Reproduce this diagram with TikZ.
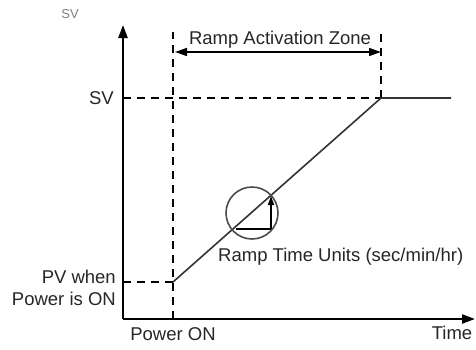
\documentclass[tikz,border=0pt]{standalone}
\usepackage{fontspec}
\setmainfont{Liberation Sans}
\usepackage{tikz}
\usetikzlibrary{arrows.meta,positioning}

\begin{document}
\begin{tikzpicture}[
      x=1pt, y=-1pt,
      font=\fontsize{18.5}{22}\selectfont,
      axis/.style={line width=2.2pt, -{Triangle[length=13pt, width=9pt]}},
      guide/.style={dashed, line width=1.8pt, dash pattern=on 8pt off 6pt},
      ramp/.style={line width=1.6pt, black!80},
      zone/.style={line width=1.6pt, {Triangle[length=12pt, width=8pt]}-{Triangle[length=12pt, width=8pt]}},
      lbl/.style={inner sep=1pt, text=black!85}
    ]
    \useasboundingbox (0,0) rectangle (476,349);

    % Reference points of the chart
    \coordinate (orig) at (123,319);
    \coordinate (ytip) at (123,25);
    \coordinate (xtip) at (475,319);
    \coordinate (start) at (173,282);
    \coordinate (reach) at (381,98);
    \coordinate (hold) at (451,98);
    \coordinate (svaxis) at (123,98);
    \coordinate (pvaxis) at (123,282);
    \coordinate (ontop) at (173,32);
    \coordinate (onbase) at (173,319);
    \coordinate (zonetop) at (381,30);
    \coordinate (zoneleft) at (175,52);
    \coordinate (zoneright) at (381,52);

    % Axes
    \draw[axis] (orig) -- (ytip);
    \draw[axis] (orig) -- (xtip);
    \node[lbl, text=black!50, font=\fontsize{13}{15}\selectfont] (svhead) at (70,14) {SV};

    % Dashed guides
    \draw[guide] (onbase) -- (ontop);
    \draw[guide] (reach) -- (zonetop);
    \draw[guide] (svaxis) -- (reach);
    \draw[guide] (pvaxis) -- (start);

    % Ramp and hold
    \draw[ramp] (start) -- (reach) -- (hold);

    % Activation zone
    \draw[zone] (zoneleft) -- (zoneright);
    \node[lbl] (zonetxt) at (280,40) {Ramp Activation Zone};

    % Time unit detail
    \node[draw, circle, line width=1.6pt, black!70, minimum size=52pt, inner sep=0pt] (unit) at (252,213) {};
    \coordinate (stepa) at (236,229);
    \coordinate (stepb) at (271,229);
    \coordinate (stepc) at (271,196);
    \draw[line width=1.6pt] (stepa) -- (stepb);
    \draw[line width=1.6pt, -{Triangle[length=9pt, width=6pt]}] (stepb) -- (stepc);
    \node[lbl, anchor=west] (unittxt) at (217,257) {Ramp Time Units (sec/min/hr)};

    % Axis labels
    \node[lbl, anchor=east] (svtxt) at (115,98) {SV};
    \node[lbl, anchor=east, align=right] (pvtxt) at (117,288) {PV when\\Power is ON};
    \node[lbl] (ontxt) at (173,334) {Power ON};
    \node[lbl] (timetxt) at (452,333) {Time};
  \end{tikzpicture}
\end{document}
